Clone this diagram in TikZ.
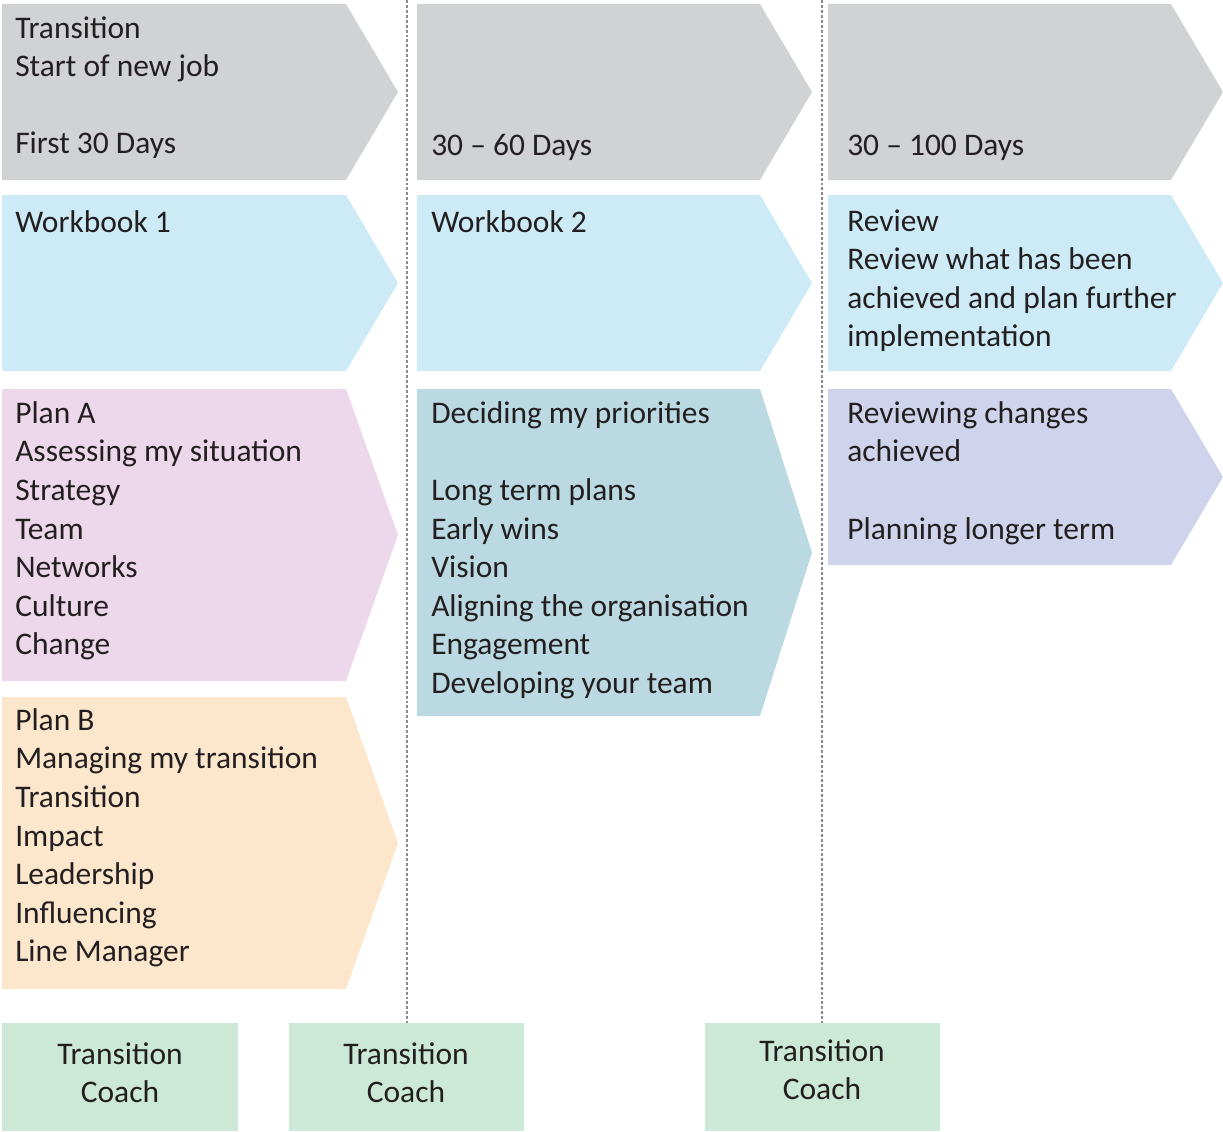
\documentclass[tikz,border=0pt]{standalone}
\usepackage{fontspec}
\setmainfont{Carlito}
\definecolor{cgrey}{HTML}{D1D2D4}
\definecolor{cblue}{HTML}{CCEBF7}
\definecolor{cpink}{HTML}{EDD7EA}
\definecolor{cteal}{HTML}{BAD9E2}
\definecolor{clav}{HTML}{CFD4EC}
\definecolor{corange}{HTML}{FCE6CC}
\definecolor{cgreen}{HTML}{CCE9D7}
\definecolor{ctext}{HTML}{231F20}
\newcommand{\topstrut}{\rule{0pt}{17pt}}
\begin{document}
\begin{tikzpicture}[x=0.75pt,y=-0.75pt,
  lbl/.style={anchor=north west,align=left,inner sep=0pt,text=ctext,
    font=\fontsize{23.6}{28.9}\selectfont,execute at begin node=\topstrut},
  coach/.style={fill=cgreen,draw=none,inner sep=0pt,anchor=north west,minimum height=81pt},
  coachtxt/.style={align=center,inner sep=0pt,text=ctext,anchor=north,
    font=\fontsize{23.6}{28.9}\selectfont,execute at begin node=\topstrut},
  divider/.style={draw=gray!90,line width=0.9pt,dash pattern=on 2.2pt off 1.5pt}]
\useasboundingbox (0,0) rectangle (1223,1131);
% chevrons
\newcommand{\chev}[5]{\fill[#1] (#2,#4) -- (#3,#4) -- ({#3+52},{(#4+#5)/2}) -- (#3,#5) -- (#2,#5) -- cycle;}
\chev{cgrey}{2}{346}{4}{180}
\chev{cgrey}{417}{760}{4}{180}
\chev{cgrey}{828}{1171}{4}{180}
\chev{cblue}{2}{346}{195}{371}
\chev{cblue}{417}{760}{195}{371}
\chev{cblue}{828}{1171}{195}{371}
\chev{cpink}{2}{346}{389}{681}
\chev{cteal}{417}{760}{389}{716}
\chev{clav}{828}{1171}{389}{565}
\chev{corange}{2}{346}{697}{989}
% dividers
\coordinate (d1t) at (407,0);
\coordinate (d2t) at (822,0);
% coach boxes
\node[coach,minimum width=177pt] (c1) at (2,1023) {};
\node[coach,minimum width=176.25pt] (c2) at (289,1023) {};
\node[coach,minimum width=176.25pt] (c3) at (705,1023) {};
\draw[divider] (d1t) -- (d1t |- c2.north);
\draw[divider] (d2t) -- (d2t |- c3.north);
\node[coachtxt] (t1) at (120,1042.3) {Transition\\Coach};
\node[coachtxt] (t2) at (406,1042.3) {Transition\\Coach};
\node[coachtxt] (t3) at (822,1039.3) {Transition\\Coach};
% texts
\node[lbl] (h1) at (15,16.3) {Transition\\Start of new job\\[28.9pt]First 30 Days};
\node[lbl] (h2) at (431,132.3) {30 – 60 Days};
\node[lbl] (h3) at (847,132.3) {30 – 100 Days};
\node[lbl] (w1) at (15,209.3) {Workbook 1};
\node[lbl] (w2) at (431,209.3) {Workbook 2};
\node[lbl] (w3) at (847,209.3) {Review\\Review what has been\\achieved and plan further\\implementation};
\node[lbl] (pa) at (15,401.3) {Plan A\\Assessing my situation\\Strategy\\Team\\Networks\\Culture\\Change};
\node[lbl] (dp) at (431,401.3) {Deciding my priorities\\[28.9pt]Long term plans\\Early wins\\Vision\\Aligning the organisation\\Engagement\\Developing your team};
\node[lbl] (rc) at (847,401.3) {Reviewing changes\\achieved\\[28.9pt]Planning longer term};
\node[lbl] (pb) at (15,708.3) {Plan B\\Managing my transition\\Transition\\Impact\\Leadership\\Influencing\\Line Manager};
\end{tikzpicture}
\end{document}
